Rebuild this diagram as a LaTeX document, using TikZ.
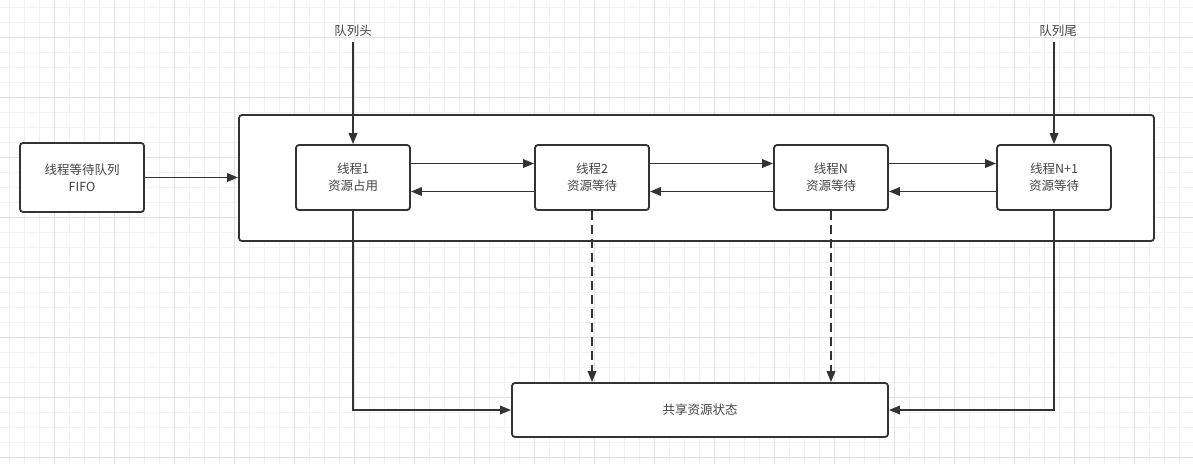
\documentclass[tikz,border=0pt]{standalone}
\usepackage{fontspec}
\setmainfont{Noto Sans CJK SC}
\usetikzlibrary{arrows.meta}
\definecolor{linegray}{HTML}{333333}
\definecolor{textgray}{HTML}{444444}
\definecolor{gridminor}{HTML}{F2F2F2}
\definecolor{gridmajor}{HTML}{E2E2E2}

\begin{document}
\begin{tikzpicture}[
			x=1pt, y=-1pt,
			box style/.style={
				draw=linegray,
				line width=1.8pt,
				rounded corners=3pt,
				fill=white,
				align=center,
				text=textgray,
				inner sep=0pt,
				font=\fontsize{12.5}{17}\selectfont
			},
			thread/.style={box style, minimum width=114pt, minimum height=65pt},
			label style/.style={text=textgray, inner sep=5pt, font=\fontsize{12.5}{17}\selectfont},
			link/.style={->, draw=linegray, line width=1.8pt},
			>={Triangle[length=11pt,width=8.5pt]}
			]
			
			\useasboundingbox (0,0) rectangle (1193,464);
			\fill[white] (0,0) rectangle (1193,464);
			
			% background grid
			\foreach \x in {9,24,...,1193}
				\draw[gridminor, line width=1pt] (\x,0) -- (\x,464);
			\foreach \y in {7,22,...,464}
				\draw[gridminor, line width=1pt] (0,\y) -- (1193,\y);
			\foreach \x in {54,114,...,1193}
				\draw[gridmajor, line width=1pt] (\x,0) -- (\x,464);
			\foreach \y in {37,97,...,464}
				\draw[gridmajor, line width=1pt] (0,\y) -- (1193,\y);
			
			\node[box style, minimum width=124pt, minimum height=69pt] (queue) at (82,177.5)
			{线程等待队列\\FIFO};
			\node[box style, minimum width=915pt, minimum height=126pt] (frame) at (696.5,178) {};
			
			\node[thread] (t1) at (353,177.5) {线程1\\资源占用};
			\node[thread] (t2) at (592,177.5) {线程2\\资源等待};
			\node[thread] (tn) at (831,177.5) {线程N\\资源等待};
			\node[thread] (tn1) at (1054,177.5) {线程N+1\\资源等待};
			
			\node[box style, minimum width=376pt, minimum height=54pt] (shared) at (700,410)
			{共享资源状态};
			
			\node[label style] (qhead) at (353,31) {队列头};
			\node[label style] (qtail) at (1058,31) {队列尾};
			
			\draw[link] (queue) -- (queue -| frame.west);
			\draw[link] (qhead.south -| t1) -- (t1);
			\draw[link] (qtail.south -| tn1) -- (tn1);
			
			\draw[link] ([yshift=14pt]t1.east) -- ([yshift=14pt]t2.west);
			\draw[link] ([yshift=-14pt]t2.west) -- ([yshift=-14pt]t1.east);
			\draw[link] ([yshift=14pt]t2.east) -- ([yshift=14pt]tn.west);
			\draw[link] ([yshift=-14pt]tn.west) -- ([yshift=-14pt]t2.east);
			\draw[link] ([yshift=14pt]tn.east) -- ([yshift=14pt]tn1.west);
			\draw[link] ([yshift=-14pt]tn1.west) -- ([yshift=-14pt]tn.east);
			
			\draw[link] (t1) |- (shared);
			\draw[link] (tn1) |- (shared);
			\draw[link, dash pattern=on 9pt off 5pt] (t2) -- (t2 |- shared.north);
			\draw[link, dash pattern=on 9pt off 5pt] (tn) -- (tn |- shared.north);
			
		\end{tikzpicture}
\end{document}
